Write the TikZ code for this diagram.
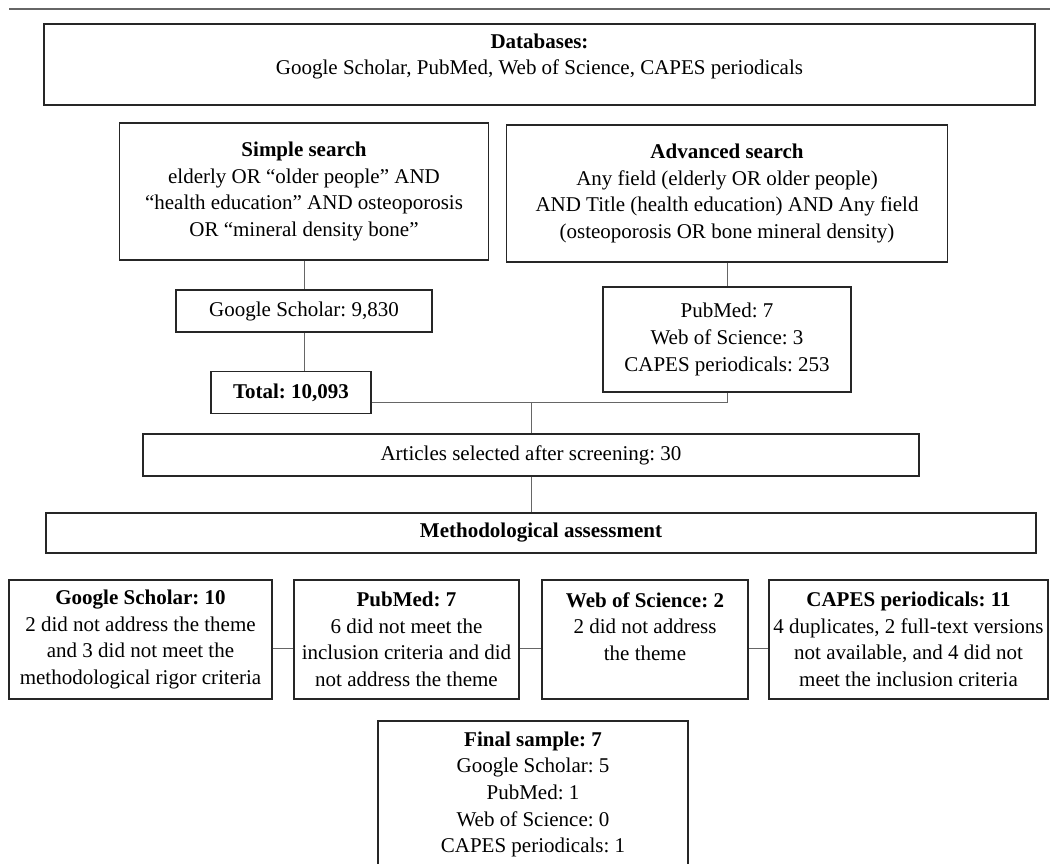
\documentclass[tikz,border=0pt]{standalone}
\usepackage{fontspec}
\setmainfont{Liberation Serif}
\usepackage{tikz}
\frenchspacing
\newcommand{\boxfont}{\fontsize{21}{26.6}\selectfont}

\begin{document}
\begin{tikzpicture}[x=1pt, y=-1pt,
    box/.style={draw=black!85, line width=1.1pt, align=center, inner sep=0pt, font=\boxfont},
    link/.style={draw=black!60, line width=1pt}]
  \clip (0,0) rectangle (1050,863);
  \draw[black!60, line width=1.4pt] (9,9) -- (1050,9);

  \node[box, minimum width=991pt, minimum height=81pt] (db) at (539.5,64.5)
    {\textbf{Databases:}\\Google Scholar, PubMed, Web of Science, CAPES periodicals\\[-6pt]};
  \node[box, minimum width=369pt, minimum height=137pt] (sim) at (304,191.5)
    {\textbf{Simple search}\\elderly OR “older people” AND\\“health education” AND osteoporosis\\OR “mineral density bone”};
  \node[box, minimum width=441pt, minimum height=137pt] (adv) at (727,193.5)
    {\textbf{Advanced search}\\Any field (elderly OR older people)\\AND Title (health education) AND Any field\\(osteoporosis OR bone mineral density)};
  \node[box, minimum width=256pt, minimum height=42pt] (gs) at (304,311) {Google Scholar: 9,830};
  \node[box, minimum width=248pt, minimum height=105pt] (pm) at (727,339.5)
    {PubMed: 7\\Web of Science: 3\\CAPES periodicals: 253};
  \node[box, minimum width=160pt, minimum height=42pt] (tot) at (291,392.5) {\textbf{Total: 10,093}};
  \node[box, minimum width=776pt, minimum height=42pt] (art) at (531,455)
    {Articles selected after screening: 30};
  \node[box, minimum width=990pt, minimum height=40pt] (meth) at (541,533)
    {\textbf{Methodological assessment}};

  \node[box, minimum width=263pt, minimum height=119pt] (b1) at (140.5,639.5)
    {\textbf{Google Scholar: 10}\\2 did not address the theme\\and 3 did not meet the\\methodological rigor criteria};
  \node[box, minimum width=225pt, minimum height=119pt] (b2) at (406.5,639.5)
    {\textbf{PubMed: 7}\\6 did not meet the\\inclusion criteria and did\\not address the theme};
  \node[box, minimum width=206pt, minimum height=119pt] (b3) at (645,639.5)
    {\textbf{Web of Science: 2}\\2 did not address\\the theme\\~};
  \node[box, minimum width=279pt, minimum height=119pt] (b4) at (908.5,639.5)
    {\textbf{CAPES periodicals: 11}\\4 duplicates, 2 full-text versions\\not available, and 4 did not\\meet the inclusion criteria};

  \node[box, minimum width=310pt, minimum height=147pt] (fin) at (533,794.5)
    {\textbf{Final sample: 7}\\Google Scholar: 5\\PubMed: 1\\Web of Science: 0\\CAPES periodicals: 1};

  \coordinate (merge) at ([yshift=-10pt]tot.east -| art.north);
  \draw[link] (sim) -- (gs);
  \draw[link] (gs.south) -- (gs.south |- tot.north);
  \draw[link] (adv) -- (pm);
  \draw[link] ([yshift=-10pt]tot.east) -| (pm.south);
  \draw[link] (merge) -- (art.north);
  \draw[link] (art.south) -- (art.south |- meth.north);
  \draw[link] ([yshift=-9pt]b1.east) -- ([yshift=-9pt]b2.west);
  \draw[link] ([yshift=-9pt]b2.east) -- ([yshift=-9pt]b3.west);
  \draw[link] ([yshift=-9pt]b3.east) -- ([yshift=-9pt]b4.west);
\end{tikzpicture}
\end{document}
